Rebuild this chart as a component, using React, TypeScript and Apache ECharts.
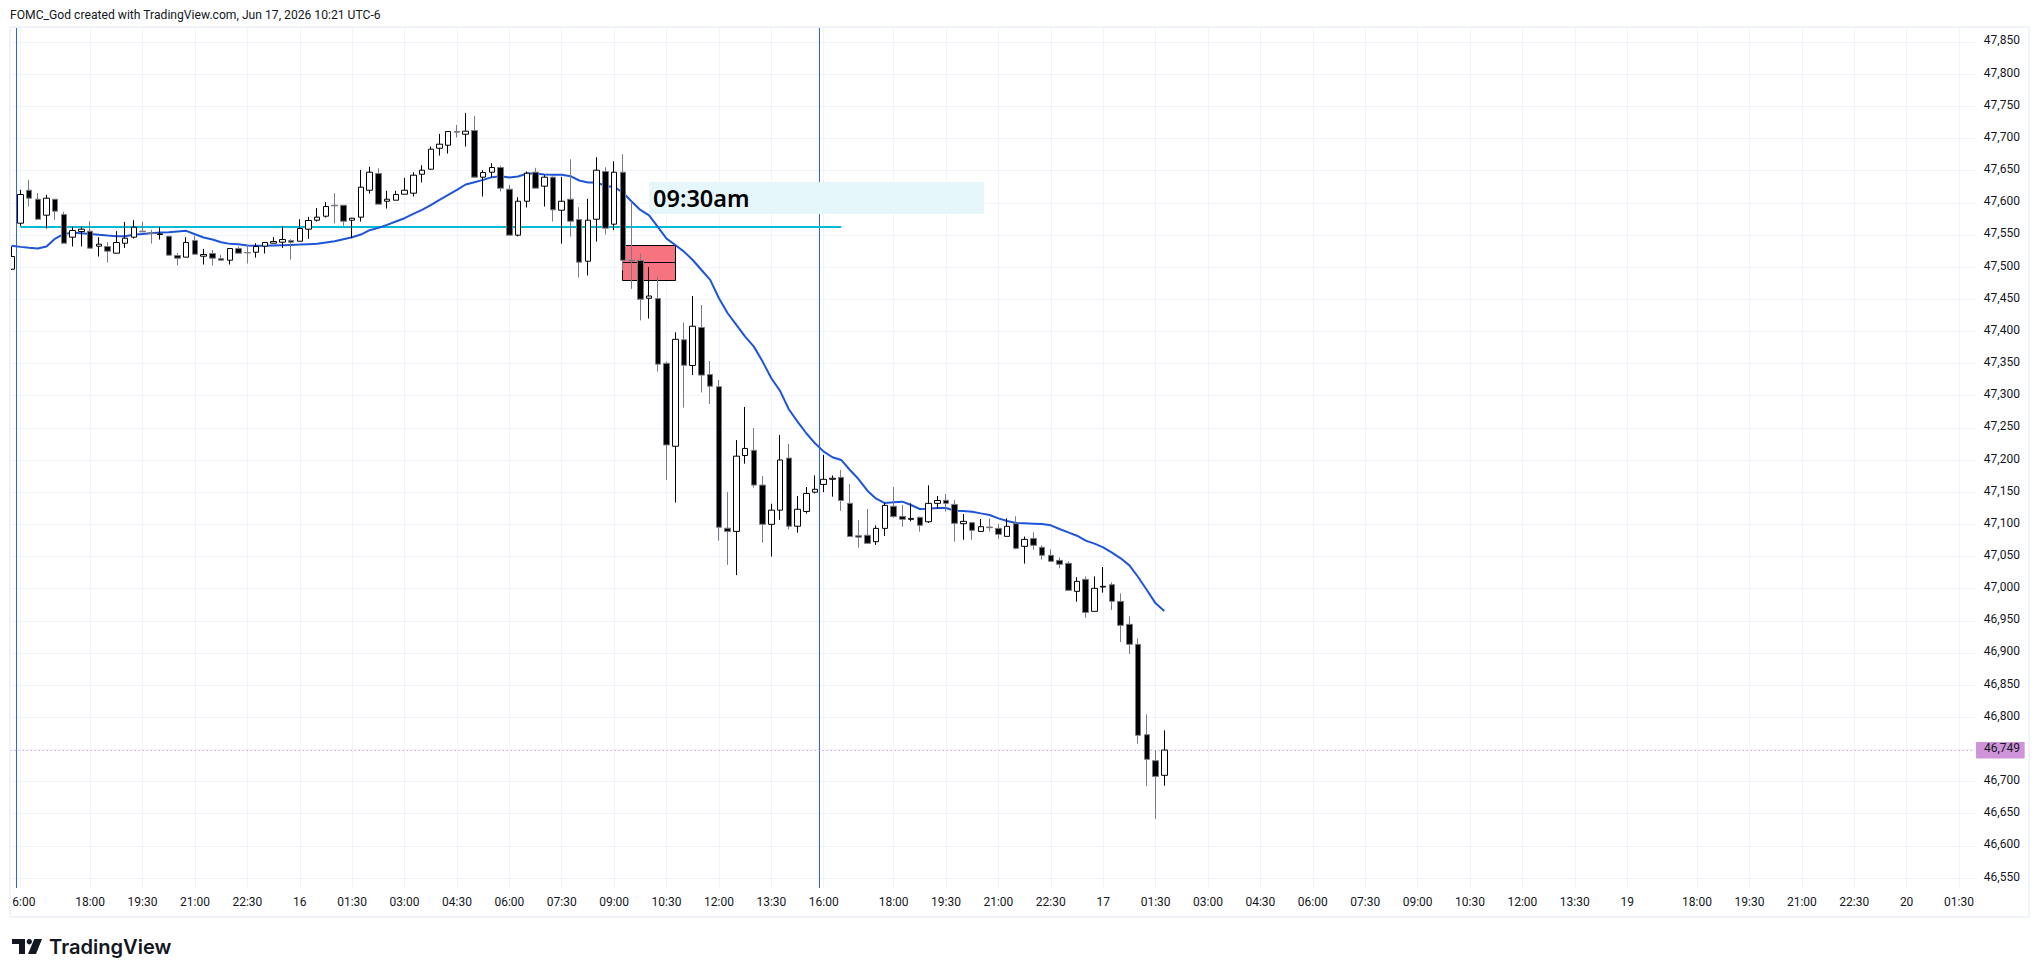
import React, { useEffect, useRef } from "react";
import * as echarts from "echarts";

// first row is the partly hidden bar before the 16:00 bar; rows are [open, close, low, high]
const ohlc = [
  [47496.7,47516.4,47495.7,47532],
  [47568.2,47612.8,47564.1,47620.1],[47619.5,47607.1,47594.1,47635.6],[47605.5,47574.4,47574.4,47614.9],[47580.7,47607.1,47559.9,47612.3],
  [47605.5,47586.9,47573.4,47605.5],[47581.7,47537.1,47537.1,47585.9],[47546.5,47556.8,47532,47563],[47555.3,47558.9,47532,47563],
  [47555.8,47529.4,47529.4,47571.3],[47532.5,47535.6,47516.4,47546.5],[47532,47524.7,47507.1,47538.7],[47521.6,47538.2,47521.6,47555.8],
  [47537.1,47544.9,47529.9,47570.3],[47546.5,47562,47544.4,47572.9],[47555.8,47554.8,47554.8,47570.3],[47553.2,47552.2,47536.6,47557.9],
  [47550.6,47551.6,47542.8,47562.5],[47548,47518.5,47518.5,47548.5],[47518,47513.8,47502.4,47521.6],[47515.4,47538.2,47515.4,47546.5],
  [47541.3,47520,47520,47548.5],[47516.9,47519.5,47504,47528.3],[47521.1,47513.8,47502.4,47526.8],[47513.3,47510.7,47510.7,47519],
  [47510.7,47528.8,47504,47529.4],[47528.8,47521.6,47521.6,47532],[47522.6,47522.1,47505.5,47535],[47523.1,47532,47514.8,47537.1],
  [47532.5,47538.2,47521.1,47538.2],[47537.1,47539.7,47537.1,47546.5],[47538.7,47542.8,47529.9,47563.6],[47541.3,47538.7,47511.7,47543.3],
  [47540.2,47559.9,47540.2,47574.4],[47558.9,47572.4,47543.9,47578.1],[47572.9,47577.6,47570.8,47591.6],[47579.1,47594.1,47577,47600.9],
  [47596.2,47595.2,47567.7,47614.9],[47596.2,47571.3,47564.1,47596.2],[47572.9,47576,47544.9,47576.5],[47577.6,47624.2,47570.8,47651.2],
  [47619.5,47647.5,47614.4,47655.8],[47645.5,47597.8,47597.8,47653.7],[47602.4,47605.5,47591,47618.5],[47604,47612.8,47604,47618.5],
  [47613.3,47619.5,47613.3,47638.7],[47614.9,47642.9,47609.7,47647.5],[47644.4,47650.6,47631.5,47658.4],[47652.2,47683.3,47652.2,47687.4],
  [47684.8,47691.1,47673.4,47707.1],[47689.5,47710.8,47676.6,47711.3],[47710.8,47709.7,47701.4,47721.1],[47706.6,47711.3,47687.4,47739.8],
  [47712.3,47639.8,47639.8,47735.1],[47639.8,47647,47609.7,47650.6],[47647.5,47654.8,47640.3,47661.5],[47654.8,47622.7,47617.5,47657.4],
  [47621.1,47549.6,47549.6,47627.8],[47549.6,47602.4,47547.5,47608.7],[47602.4,47646,47592.6,47648.6],[47647.5,47622.7,47622.7,47654.3],
  [47625.8,47639.8,47594.1,47642.9],[47639.8,47589,47570.8,47640.8],[47588.4,47602.4,47536.6,47640.3],[47605.5,47571.3,47547.5,47667.7],
  [47573.9,47507.6,47483.7,47593.1],[47509.1,47572.9,47486.9,47606],[47574.4,47650.6,47539.7,47670.9],[47648.6,47560.5,47550.6,47655.3],
  [47566.7,47647.5,47557.3,47664.6],[47647.5,47510.7,47494.6,47675.5],[47510.7,47509.7,47466.1,47601.9],[47510.2,47450,47417,47521.1],
  [47451.5,47455,47420,47500],[47451,47349,47337.5,47485],[47350.4,47223.4,47169,47353],[47221.4,47387.7,47133.8,47398.6],
  [47387,47347.3,47281.5,47413.7],[47347,47408,47332,47455],[47406,47332,47305,47441],[47333,47314.7,47287,47354],
  [47314,47095.4,47074.7,47324.5],[47094,47089,47037,47150],[47089,47206,47021,47231],[47207,47218,47194.4,47282.5],
  [47215,47161,47157,47249.4],[47161,47100,47071.6,47175],[47100,47122,47050,47132],[47122,47200,47107,47239],
  [47203,47097,47092,47225],[47097,47123.4,47087,47144],[47120,47148,47116.7,47158],[47150,47154.5,47148,47176],
  [47162,47170,47150,47208],[47170,47171.6,47143,47176],[47173,47137,47121,47184.5],[47132.6,47081,47081,47162.7],
  [47082.3,47080,47063.7,47106.7],[47083,47070.4,47070.4,47123.8],[47073,47093.7,47068,47098.4],[47093.7,47129.5,47081.8,47133],
  [47128,47112,47110,47158],[47112.4,47107.7,47096,47130],[47107.7,47109.3,47104.6,47132.6],[47110.9,47098.4,47088.6,47112],
  [47104,47132.6,47102,47160.6],[47132.6,47137,47124,47144],[47137.3,47132.6,47119.7,47147],[47131,47101.5,47073,47137.8],
  [47101,47104.6,47076,47116],[47102.6,47090.6,47076,47104],[47089,47096.3,47089,47108.3],[47095.8,47094.8,47089,47109],
  [47093.7,47084.4,47077,47100.5],[47081.3,47096.9,47081.3,47109.3],[47101,47062.6,47061,47112.4],[47065.8,47076.6,47039,47081],
  [47078,47067.3,47060.6,47087.5],[47064.2,47051.8,47045,47067.3],[47051.8,47042.5,47042.5,47061],[47044,47037.8,47031.6,47048.7],
  [47039.3,46997.3,46997.3,47042.4],[46995.8,47011.3,46979.7,47017.6],[47014.4,46963,46954.8,47019],[46964.7,47000.5,46964.7,47019],
  [47002.5,47003.6,46993.7,47033.6],[47006.2,46980.2,46966.8,47009.8],[46980.2,46942.9,46917,46992.7],[46944.5,46913.4,46898.3,46957],
  [46913.4,46771.9,46759,46922.7],[46772.9,46734.6,46693,46804.5],[46732.5,46708,46641.8,46749],[46709.7,46749,46693.6,46779.6],
];

const ema = [
  47533,47531.4,47529.9,47528.8,47532,47544.4,47551.6,47553.2,47552.7,47551.6,47550.1,47549,47548,47548,47550.1,47551.6,47552.7,47553.7,47554.2,47555.3,
  47556.3,47551.1,47545.9,47542.8,47538.7,47536.1,47535.6,47533.5,47533,47533,47533.5,47534,47534.5,47535,47535.6,47536.1,47538.2,47540.2,47543.4,47546.5,
  47550.6,47557.3,47561,47565.6,47570.8,47576,47582.7,47589,47596.2,47604.5,47612.3,47620.1,47628.4,47632,47635.6,47639.8,47641.3,47639.2,47640.8,47645.5,
  47645.5,47643.9,47643.4,47643.4,47641.3,47634.6,47631.5,47631.5,47626.3,47624.2,47616,47602,47588.8,47580.5,47562.4,47544.2,47534.4,47524,47511,47495.5,
  47480,47451.5,47428.2,47410,47391.9,47376.3,47353,47327.1,47307.4,47278.9,47259.7,47241.6,47226,47213,47204.3,47200.1,47184.5,47170,47152.3,47139.9,
  47133.1,47134.2,47135.2,47130,47123.8,47124.3,47125.4,47125.4,47121.2,47120.7,47119.7,47117,47114.5,47109.3,47105.2,47102,47101.5,47101,47100.5,47098.4,47092.7,
  47087.5,47082.3,47074.6,47069.9,47064.2,47055.9,47047.1,47036.2,47018.1,46997.9,46977.1,46965.2,
];

const tickBars = [0,8,14,20,26,32,38,44,50,56,62,68,74,80,86,92,100,106,112,118,124,130,136,142,148,154,160,166,172,178,184,192,198,204,210,216,222];
const tickLabels = ["6:00","18:00","19:30","21:00","22:30","16","01:30","03:00","04:30","06:00","07:30","09:00","10:30","12:00","13:30","16:00","18:00","19:30","21:00","22:30","17","01:30","03:00","04:30","06:00","07:30","09:00","10:30","12:00","13:30","19","18:00","19:30","21:00","22:30","20","01:30"];

const sessionLines = [-0.435, 91.515];
const openLine = { from: 0, to: 94, price: 47562.3 };
const noteBox = { from: 72, to: 110.35, top: 47632.3, bottom: 47582.5, textAt: 72.45, textPrice: 47607.5, text: "09:30am" };
const redZone = { from: 68.9, to: 75.05, top: 47534, bottom: 47479, mid: 47507.5 };
const lastPrice = 46749;

const TITLE = "FOMC_God created with TradingView.com, Jun 17, 2026 10:21 UTC-6";
const FONT = "Roboto, 'Noto Sans', sans-serif";
const GRID = "#F0F3FA";
const INK = "#131722";

const BAND = 8.733;
const BARS = 226;
const LEFT = 7.2;
const TOP = 27;
const HEIGHT = 861;

const categories: string[] = Array.from({ length: BARS }, () => "");
tickBars.forEach((b, i) => { categories[b + 1] = tickLabels[i]; });

const fmt = (v: number) => Math.round(v).toLocaleString("en-US");
const crisp = (v: number) => Math.floor(v) + 0.5;

export default function App() {
  const ref = useRef<HTMLDivElement>(null);
  useEffect(() => {
    const chart = echarts.init(ref.current!, undefined, { renderer: "svg" });
    const rightEdge = LEFT + BAND * BARS;
    chart.setOption({
      animation: false,
      backgroundColor: "#fff",
      grid: { left: LEFT, top: TOP, width: BAND * BARS, height: HEIGHT },
      xAxis: [
        {
          type: "category",
          data: categories,
          boundaryGap: true,
          axisLine: { show: false },
          axisTick: { show: false },
          splitLine: {
            show: true,
            alignWithLabel: true,
            interval: (_i: number, v: string) => v !== "",
            lineStyle: { color: GRID, width: 1 },
          },
          axisLabel: {
            interval: (_i: number, v: string) => v !== "",
            color: INK,
            fontFamily: FONT,
            fontSize: 12,
            margin: 8,
            hideOverlap: false,
            formatter: (v: string) => (v === "6:00" ? "{a|6:00}" : v),
            rich: { a: { padding: [0, 0, 0, 7], color: INK, fontFamily: FONT, fontSize: 12 } },
          },
        },
        { type: "value", show: false, min: -1.5, max: BARS - 1.5, splitLine: { show: false } },
      ],
      yAxis: {
        type: "value",
        position: "right",
        min: 46534.5,
        max: 47873.3,
        minInterval: 50,
        maxInterval: 50,
        splitNumber: 27,
        scale: true,
        axisLine: { show: false },
        axisTick: { show: false },
        splitLine: { show: true, showMinLine: false, showMaxLine: false, lineStyle: { color: GRID, width: 1 } },
        axisLabel: {
          color: INK,
          fontFamily: FONT,
          fontSize: 12,
          margin: 3,
          showMinLabel: false,
          showMaxLabel: false,
          formatter: (v: number) => "{p|" + fmt(v) + "}",
          rich: { p: { padding: [0, 0, 3, 0], color: INK, fontFamily: FONT, fontSize: 12 } },
        },
      },
      series: [
        {
          type: "custom",
          name: "annotations",
          xAxisIndex: 1,
          yAxisIndex: 0,
          z: 1,
          silent: true,
          clip: false,
          data: [[0, lastPrice]],
          renderItem: (_p: any, api: any) => {
            const pt = (x: number, y: number) => api.coord([x, y]);
            const kids: any[] = [];
            sessionLines.forEach((x) => {
              const a = pt(x, 47873.3), b = pt(x, 46534.5);
              const cx = crisp(a[0]);
              kids.push({ type: "line", shape: { x1: cx, y1: a[1], x2: cx, y2: b[1] }, style: { stroke: "#2962FF", lineWidth: 1 } });
            });
            const bA = pt(noteBox.from, noteBox.top), bB = pt(noteBox.to, noteBox.bottom);
            kids.push({ type: "rect", shape: { x: bA[0], y: bA[1], width: bB[0] - bA[0], height: bB[1] - bA[1] }, style: { fill: "#E5F7FB" } });
            const tP = pt(noteBox.textAt, noteBox.textPrice);
            kids.push({ type: "text", x: tP[0], y: tP[1], style: { text: noteBox.text, fill: "#000", font: "600 23.5px 'Noto Sans', sans-serif", align: "left", verticalAlign: "middle" } });
            const zA = pt(redZone.from, redZone.top), zB = pt(redZone.to, redZone.bottom), zM = pt(redZone.from, redZone.mid);
            const zx1 = crisp(zA[0]), zx2 = crisp(zB[0]), zy1 = crisp(zA[1]), zy2 = crisp(zB[1]), zym = crisp(zM[1]);
            kids.push({ type: "rect", shape: { x: zx1, y: zy1, width: zx2 - zx1, height: zy2 - zy1 }, style: { fill: "#F6737F", stroke: "#000", lineWidth: 1 } });
            kids.push({ type: "line", shape: { x1: zx1, y1: zym, x2: zx2, y2: zym }, style: { stroke: "#000", lineWidth: 1 } });
            const oA = pt(openLine.from, openLine.price), oB = pt(openLine.to, openLine.price);
            kids.push({ type: "line", shape: { x1: oA[0], y1: Math.round(oA[1]), x2: oB[0], y2: Math.round(oB[1]) }, style: { stroke: "#00BCD4", lineWidth: 2 } });
            const lA = pt(-1.1, lastPrice), lB = pt(223.8, lastPrice);
            kids.push({ type: "line", shape: { x1: lA[0], y1: crisp(lA[1]), x2: lB[0], y2: crisp(lB[1]) }, style: { stroke: "#C77DDB", lineWidth: 1, lineDash: [1, 3] } });
            return { type: "group", children: kids };
          },
        },
        {
          type: "line",
          name: "EMA",
          data: ema,
          z: 2,
          showSymbol: false,
          symbol: "none",
          smooth: false,
          lineStyle: { color: "#1E55D8", width: 2 },
        },
        {
          type: "candlestick",
          name: "Price",
          data: ohlc,
          z: 5,
          barWidth: 6,
          itemStyle: { color: "#FFFFFF", color0: "#000000", borderColor: "#000000", borderColor0: "#787B86", borderWidth: 1 },
        },
        {
          type: "custom",
          name: "lastPriceTag",
          xAxisIndex: 1,
          yAxisIndex: 0,
          z: 200,
          silent: true,
          clip: false,
          data: [[0, lastPrice]],
          renderItem: (_p: any, api: any) => {
            const y = api.coord([0, lastPrice])[1];
            return {
              type: "group",
              children: [
                { type: "rect", shape: { x: 1976, y: y - 8, width: 48.7, height: 16.4, r: 1 }, style: { fill: "#CE93D8" } },
                { type: "text", x: 1984, y: y - 2, style: { text: fmt(lastPrice), fill: INK, font: "12px " + FONT, align: "left", verticalAlign: "middle" } },
              ],
            };
          },
        },
      ],
      graphic: [
        { type: "rect", z: 100, shape: { x: 0, y: 0, width: 9, height: 977 }, style: { fill: "#fff" } },
        { type: "rect", z: 100, shape: { x: 1975, y: TOP + 1, width: rightEdge - 1975 + 1, height: HEIGHT + 4 }, style: { fill: "#fff" } },
        { type: "rect", z: 101, shape: { x: 10, y: 27, width: 2019, height: 890 }, style: { fill: "none", stroke: GRID, lineWidth: 2 } },
        { type: "text", z: 101, x: 10, y: 15, style: { text: TITLE, fill: INK, font: "12.15px " + FONT, align: "left", verticalAlign: "middle" } },
        { type: "polygon", z: 101, shape: { points: [[12,939],[25,939],[25,954],[19,954],[19,944],[12,944]] }, style: { fill: INK } },
        { type: "circle", z: 101, shape: { cx: 29.3, cy: 941.7, r: 2.7 }, style: { fill: INK } },
        { type: "polygon", z: 101, shape: { points: [[34.3,939],[42,939],[36,954],[28,954]] }, style: { fill: INK } },
        { type: "text", z: 101, x: 49, y: 947, style: { text: "TradingView", fill: INK, font: "600 20.1px Inter, sans-serif", align: "left", verticalAlign: "middle" } },
      ],
    });
    return () => chart.dispose();
  }, []);
  return <div ref={ref} style={{ position: "absolute", left: 0, top: 0, width: 2039, height: 977, background: "#fff" }} />;
}
